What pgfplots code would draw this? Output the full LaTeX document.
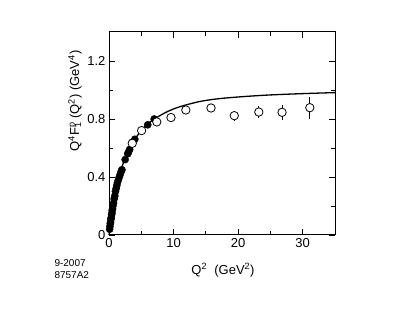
\documentclass[border=0pt]{standalone}
\usepackage{fontspec}
\setmainfont{Liberation Sans}
\usepackage{pgfplots}
\pgfplotsset{compat=1.18}
\pgfplotstableread{
x     y      e
3.6   0.632  0.01
5.05  0.72   0.01
7.4   0.78   0.01
9.6   0.81   0.015
11.9  0.862  0.015
15.8  0.876  0.02
19.4  0.823  0.035
23.2  0.848  0.04
26.8  0.846  0.05
31.1  0.878  0.077
}\opendata
\begin{document}
\begin{tikzpicture}[x=1pt,y=1pt]
\useasboundingbox (0,0) rectangle (414,320);
\begin{axis}[
    at={(109pt,85pt)}, anchor=south west,
    scale only axis, width=226pt, height=203pt,
    xmin=0, xmax=35, ymin=0, ymax=1.4,
    xtick={0,10,20,30}, minor xtick={5,15,25},
    ytick={0,0.4,0.8,1.2}, minor ytick={0.2,0.6,1.0},
    yticklabels={0,0.4,0.8,1.2},
    tick align=inside,
    major tick length=6pt, minor tick length=4pt,
    tick style={black, line width=0.8pt},
    axis line style={line width=1pt},
    ticklabel style={font=\fontsize{13}{15}\selectfont},
    /pgf/number format/assume math mode=true,
    clip=false,
]
% curve
\addplot[black, line width=1.3pt, smooth] coordinates {
    (0,0) (0.5,0.16) (1,0.29) (1.5,0.39) (2,0.47) (3,0.58) (4,0.66)
    (5,0.72) (6,0.765) (7,0.80) (9,0.85) (11,0.885) (14,0.92)
    (17,0.94) (21,0.955) (25,0.966) (30,0.975) (35,0.982)
};
% filled circles
\addplot[only marks, mark=*, mark size=3.6pt, black] coordinates {
    (0.1,0.04) (0.15,0.06) (0.2,0.08) (0.25,0.09) (0.3,0.11) (0.35,0.12)
    (0.4,0.14) (0.45,0.15) (0.5,0.17) (0.55,0.18) (0.6,0.20) (0.7,0.22)
    (0.8,0.25) (0.9,0.27) (1.0,0.30) (1.1,0.32) (1.2,0.34) (1.3,0.36)
    (1.45,0.38) (1.6,0.40) (1.75,0.42) (1.9,0.44) (2.0,0.45) (2.5,0.52)
    (2.9,0.56) (3.0,0.57) (3.2,0.59) (3.6,0.64) (4.0,0.66) (6.0,0.76)
    (7.0,0.80)
};
% open circles: error bars first, then marks on top
\addplot[only marks, mark=none, black,
    error bars/.cd, y dir=both, y explicit,
    error bar style={line width=0.8pt}, error mark=none]
    table[x=x, y=y, y error=e] {\opendata};
\addplot[only marks, mark=*, mark size=4.2pt, black, line width=0.8pt,
    mark options={fill=white}]
    table[x=x, y=y] {\opendata};
\end{axis}
\node[rotate=90, font=\fontsize{13}{15}\selectfont] at (75,219)
    {Q\textsuperscript{4}F\rlap{\textsuperscript{p}}\textsubscript{1} (Q\textsuperscript{2}) (GeV\textsuperscript{4})};
\node[font=\fontsize{13}{15}\selectfont] at (223,50)
    {Q\textsuperscript{2}\ \ (GeV\textsuperscript{2})};
\node[font=\fontsize{10}{12}\selectfont, anchor=west, align=left] at (51,51)
    {9-2007\\8757A2};
\end{tikzpicture}
\end{document}
